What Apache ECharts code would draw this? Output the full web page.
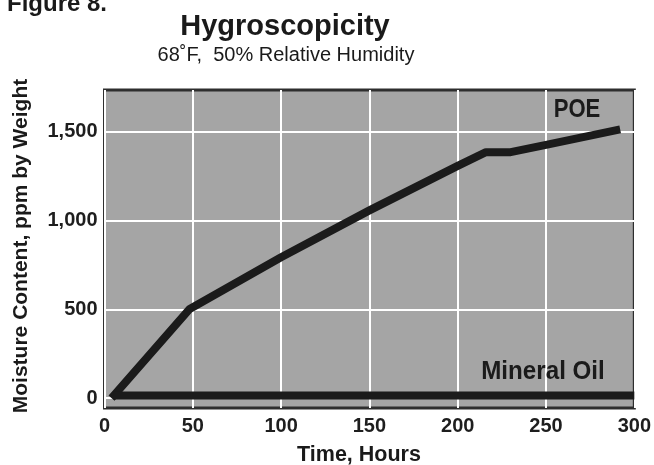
<!DOCTYPE html>
<html>
<head>
<meta charset="utf-8">
<script src="https://cdn.jsdelivr.net/npm/echarts@6/dist/echarts.min.js"></script>
<style>
  html, body { margin: 0; padding: 0; background: #fff; }
  #chart { width: 654px; height: 465px; }
</style>
</head>
<body>
<div id="chart"></div>
<script>
// data (hours, ppm)
var poeData = [[4, 0], [48, 500], [100, 793], [150, 1057], [200, 1308], [216, 1385], [230, 1385], [250, 1426], [292, 1513]];
var mineralOilData = [[5, 15], [300, 15]];
var yTicks = [0, 500, 1000, 1500];

var sans = "'Liberation Sans', Arial, sans-serif";

var chart = echarts.init(document.getElementById('chart'));

chart.setOption({
    backgroundColor: '#ffffff',
    animation: false,
    grid: {
        left: 104.5, right: 18, top: 90, bottom: 57,
        show: true,
        backgroundColor: '#a5a5a5',
        borderColor: '#2e2e2e',
        borderWidth: 3
    },
    xAxis: {
        type: 'value',
        min: 0, max: 300, interval: 50,
        axisLine: { show: false },
        axisTick: { show: false },
        axisLabel: { color: '#1e1e1e', fontFamily: sans, fontWeight: 'bold', fontSize: 20, margin: 8 },
        splitLine: { show: true, lineStyle: { color: '#ffffff', width: 2 } }
    },
    yAxis: {
        type: 'value',
        min: -56, max: 1735,
        axisLine: { show: false },
        axisTick: { show: false, customValues: yTicks },
        axisLabel: {
            customValues: yTicks,
            color: '#1e1e1e', fontFamily: sans, fontWeight: 'bold', fontSize: 20, margin: 7,
            formatter: function (v) { return v.toLocaleString('en-US'); }
        },
        splitLine: { show: true, lineStyle: { color: '#ffffff', width: 2 } }
    },
    series: [
        {
            name: 'POE', type: 'line', data: poeData,
            symbol: 'none', silent: true,
            lineStyle: { color: '#1b1b1b', width: 8, join: 'round' }
        },
        {
            name: 'Mineral Oil', type: 'line', data: mineralOilData,
            symbol: 'none', silent: true,
            lineStyle: { color: '#1b1b1b', width: 8 }
        }
    ],
    graphic: [
        { type: 'text', left: 7, top: -8, style: { text: 'Figure 8.', font: 'bold 24px ' + sans, fill: '#1a1a1a' } },
        { type: 'text', x: 285, y: 27, style: { text: 'Hygroscopicity', font: 'bold 29px ' + sans, fill: '#1a1a1a', align: 'center', verticalAlign: 'middle' } },
        { type: 'text', x: 286, y: 55, style: { text: '68˚F,  50% Relative Humidity', font: '20px ' + sans, fill: '#1a1a1a', align: 'center', verticalAlign: 'middle' } },
        { type: 'text', x: 21, y: 246, rotation: Math.PI / 2, style: { text: 'Moisture Content, ppm by Weight', font: 'bold 21px ' + sans, fill: '#1a1a1a', align: 'center', verticalAlign: 'middle' } },
        { type: 'text', x: 359, y: 455, style: { text: 'Time, Hours', font: 'bold 21.5px ' + sans, fill: '#1a1a1a', align: 'center', verticalAlign: 'middle' } },
        { type: 'text', x: 577, y: 110, scaleX: 0.85, z: 10, style: { text: 'POE', font: 'bold 26px ' + sans, fill: '#1b1b1b', align: 'center', verticalAlign: 'middle' } },
        { type: 'text', x: 543, y: 372, scaleX: 0.93, z: 10, style: { text: 'Mineral Oil', font: 'bold 26px ' + sans, fill: '#1b1b1b', align: 'center', verticalAlign: 'middle' } }
    ]
});
</script>
</body>
</html>
